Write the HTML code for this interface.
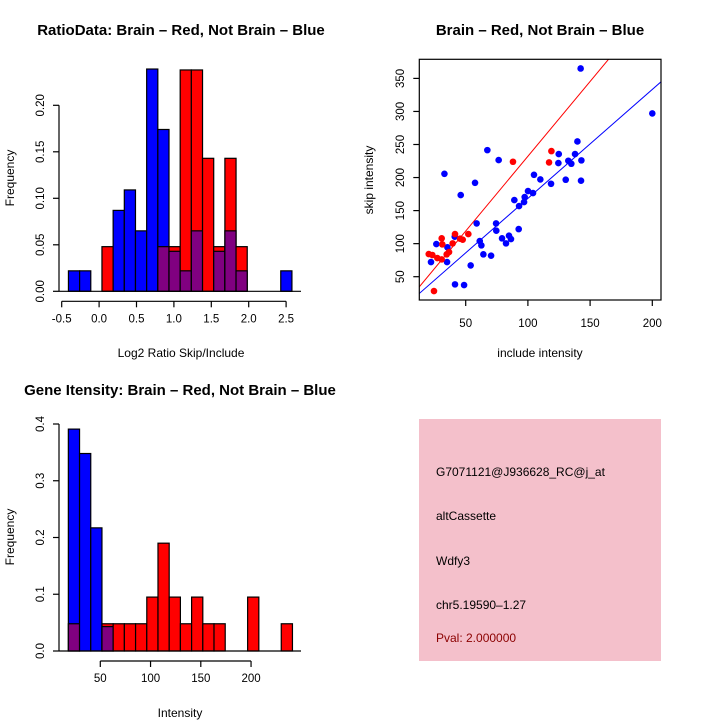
<!DOCTYPE html>
<html><head><meta charset="utf-8"><style>
body{margin:0;background:#fff;}
svg{display:block;font-family:"Liberation Sans",sans-serif;}
</style></head><body>
<svg id="c" width="720" height="720" viewBox="0 0 720 720">
<rect width="720" height="720" fill="#fff"/>
</svg>
<script>
// ---- Ratio histogram data ----
const ratioBinStart = -0.41;
const ratioBinWidth = 0.1494;
const ratioBlue = [0.022,0.022,0,0,0.087,0.109,0.065,0.239,0.174,0.043,0.022,0.065,0,0.043,0.065,0.022,0,0,0,0.022];
const ratioRed  = [0,0,0,0.048,0,0,0,0,0.048,0.048,0.238,0.238,0.143,0.048,0.143,0.048,0,0,0,0];
const ratioXTicks = [-0.5,0,0.5,1,1.5,2,2.5];
const ratioXTickLabels = ["-0.5","0.0","0.5","1.0","1.5","2.0","2.5"];
const ratioYTicks = [0,0.05,0.10,0.15,0.20];
const ratioYTickLabels = ["0.00","0.05","0.10","0.15","0.20"];
// ---- Scatter data ----
const blueX = [142.4,200,139.8,67.4,76.5,124.8,137.9,124.5,132.5,134.9,143,32.9,104.9,110,130.4,142.7,118.6,57.5,46,100.1,104.1,97.4,89.1,96.9,92.9,58.8,74.4,74.6,92.6,79.2,84.8,86.4,82.4,61.3,62.6,64.2,70.4,41.2,26.4,35.3,22.1,35,54,41.4,48.7];
const blueY = [365,297,254.6,241.5,226.4,235.5,235.5,221.9,225.4,220.9,226,205.7,204.2,197.2,196.7,195.2,190.6,192.1,173.5,179.5,176.5,170.5,165.9,162.9,156.9,130.6,130.6,119.6,122,108,112,107,100.4,103.9,97.4,83.8,81.8,110.5,99.4,94.4,72.2,72.2,67.1,38.4,37.4];
const redX = [118.9,117,88,52.1,41.4,45.5,47.6,39.5,30.7,31.2,20.3,23.2,27.2,30.7,34.7,36.6,24.5];
const redY = [240,222.9,223.9,114.5,114.5,107.5,106,100.4,108,98.9,84.3,82.8,78.2,76.2,83.8,87.3,28.3];
const fitBlue = [3.7,1.648];   // intercept, slope
const fitRed = [5.9,2.263];
const scatXTicks = [50,100,150,200];
const scatYTicks = [50,100,150,200,250,300,350];
// ---- Intensity histogram data ----
const intBinStart = 18.2;
const intBinWidth = 11.15;
const intBlue = [0.391,0.348,0.217,0.043,0,0,0,0,0,0,0,0,0,0,0,0,0,0,0,0];
const intRed  = [0.048,0,0,0.048,0.048,0.048,0.048,0.095,0.19,0.095,0.048,0.095,0.048,0.048,0,0,0.095,0,0,0.048];
const intXTicks = [50,100,150,200];
const intYTicks = [0,0.1,0.2,0.3,0.4];
const intYTickLabels = ["0.0","0.1","0.2","0.3","0.4"];

const NS="http://www.w3.org/2000/svg";
const svg=document.getElementById('c');
function mk(tag,attrs,parent,text){const e=document.createElementNS(NS,tag);for(const k in attrs)e.setAttribute(k,attrs[k]);if(text!==undefined)e.textContent=text;(parent||svg).appendChild(e);return e;}

function hist(name,sx,sy,start,w,blue,red,xt,xtl,yt,ytl,axisXFrom,axisXTo,yAxisFrom,yAxisTo){
  const g=mk('g',{});
  
  
  for(let i=0;i<blue.length;i++){
    const x0=sx(start+i*w),x1=sx(start+(i+1)*w);
    const b=blue[i],r=red[i],m=Math.min(b,r),M=Math.max(b,r);
    if(M<=0) continue;
    const top=b>=r?'blue':'red';
    const bar=mk('rect',{x:x0,y:sy(M),width:x1-x0,height:sy(0)-sy(M),fill:top=='blue'?'#0000ff':'#ff0000',stroke:'#000','stroke-width':1.2},g);
    
    
    if(m>0){
      const ov=mk('rect',{x:x0,y:sy(m),width:x1-x0,height:sy(0)-sy(m),fill:'#800080',stroke:'#000','stroke-width':1.2},g);
      
      
    }
  }
  mk('line',{x1:59,x2:301,y1:sy(0),y2:sy(0),stroke:'#000','stroke-width':1.2},g);
  const ax=mk('g',{},g);
  
  
  const ay0=sy(0)+10;
  mk('line',{x1:sx(axisXFrom),x2:sx(axisXTo),y1:ay0,y2:ay0,stroke:'#000','stroke-width':1.2},ax);
  xt.forEach((v,i)=>{mk('line',{x1:sx(v),x2:sx(v),y1:ay0,y2:ay0+6,stroke:'#000','stroke-width':1.2},ax);
    mk('text',{x:sx(v),y:ay0+21,'text-anchor':'middle','font-size':11.5},ax,xtl[i]);});
  const yx=mk('g',{},g);
  
  
  mk('line',{x1:59,x2:59,y1:sy(yAxisFrom),y2:sy(yAxisTo),stroke:'#000','stroke-width':1.2},yx);
  yt.forEach((v,i)=>{mk('line',{x1:53,x2:59,y1:sy(v),y2:sy(v),stroke:'#000','stroke-width':1.2},yx);
    mk('text',{x:0,y:0,'text-anchor':'middle','font-size':11.5,transform:`translate(44,${sy(v)}) rotate(-90)`},yx,ytl[i]);});
  return g;
}

{
  const sx=v=>61.7+(v+0.5)*74.8, sy=v=>291.3-v*930;
  hist('ratio-histogram',sx,sy,ratioBinStart,ratioBinWidth,ratioBlue,ratioRed,ratioXTicks,ratioXTickLabels,ratioYTicks,ratioYTickLabels,-0.5,2.5,0,0.2);
  const t=mk('text',{x:181,y:35,'text-anchor':'middle','font-size':15,'font-weight':'bold'},svg,'RatioData: Brain – Red, Not Brain – Blue');
  
  const xl=mk('text',{x:181,y:357,'text-anchor':'middle','font-size':12},svg,'Log2 Ratio Skip/Include');
  
  const yl=mk('text',{x:0,y:0,'text-anchor':'middle','font-size':12,transform:'translate(14,178) rotate(-90)'},svg,'Frequency');
  
}
{
  const sx=v=>100.3+(v-50)*1.005, sy=v=>651-v*567.5;
  hist('intensity-histogram',sx,sy,intBinStart,intBinWidth,intBlue,intRed,intXTicks,intXTicks.map(String),intYTicks,intYTickLabels,50,200,0,0.4);
  const t=mk('text',{x:180,y:395,'text-anchor':'middle','font-size':15,'font-weight':'bold'},svg,'Gene Itensity: Brain – Red, Not Brain – Blue');
  
  const xl=mk('text',{x:180,y:717,'text-anchor':'middle','font-size':12},svg,'Intensity');
  
  const yl=mk('text',{x:0,y:0,'text-anchor':'middle','font-size':12,transform:'translate(14,537) rotate(-90)'},svg,'Frequency');
  
}
{
  const sx=v=>465.7+(v-50)*1.244, sy=v=>276.7-(v-50)*0.661;
  const L=419.3,R=661,T=59.3,B=300;
  const g=mk('g',{});
  
  const dc=mk('clipPath',{id:'sc'},g);mk('rect',{x:L,y:T,width:R-L,height:B-T},dc);
  const pg=mk('g',{'clip-path':'url(#sc)'},g);
  [[fitRed,'#ff0000','fit-line-red'],[fitBlue,'#0000ff','fit-line-blue']].forEach(([f,c,n])=>{
    const x0=0,x1=260;
    const l=mk('line',{x1:sx(x0),y1:sy(f[0]+f[1]*x0),x2:sx(x1),y2:sy(f[0]+f[1]*x1),stroke:c,'stroke-width':1},pg);
    
  });
  blueX.forEach((x,i)=>{const p=mk('circle',{cx:sx(x),cy:sy(blueY[i]),r:3.3,fill:'#0000ff'},pg);
    });
  redX.forEach((x,i)=>{const p=mk('circle',{cx:sx(x),cy:sy(redY[i]),r:3.3,fill:'#ff0000'},pg);
    });
  mk('rect',{x:L,y:T,width:R-L,height:B-T,fill:'none',stroke:'#000','stroke-width':1.2},g);
  scatXTicks.forEach(v=>{mk('line',{x1:sx(v),x2:sx(v),y1:B,y2:B+6,stroke:'#000','stroke-width':1.2},g);
    mk('text',{x:sx(v),y:B+27,'text-anchor':'middle','font-size':11.5},g,String(v));});
  scatYTicks.forEach(v=>{mk('line',{x1:L-6,x2:L,y1:sy(v),y2:sy(v),stroke:'#000','stroke-width':1.2},g);
    mk('text',{x:0,y:0,'text-anchor':'middle','font-size':11.5,transform:`translate(404,${sy(v)}) rotate(-90)`},g,String(v));});
  const t=mk('text',{x:540,y:35,'text-anchor':'middle','font-size':15,'font-weight':'bold'},svg,'Brain – Red, Not Brain – Blue');
  
  const xl=mk('text',{x:540,y:357,'text-anchor':'middle','font-size':12},svg,'include intensity');
  
  const yl=mk('text',{x:0,y:0,'text-anchor':'middle','font-size':12,transform:'translate(373,180) rotate(-90)'},svg,'skip intensity');
  
}
{
  const g=mk('g',{});
  
  mk('rect',{x:419,y:419,width:242,height:242,fill:'#f4c0cb'},g);
  const lines=[['G7071121@J936628_RC@j_at',476,'#000'],['altCassette',520,'#000'],['Wdfy3',565,'#000'],['chr5.19590–1.27',609,'#000'],['Pval: 2.000000',642,'#8b0000']];
  lines.forEach(([s,y,c])=>{const t=mk('text',{x:436,y:y,'font-size':12,fill:c},g,s);
    });
}
</script>
</body></html>
